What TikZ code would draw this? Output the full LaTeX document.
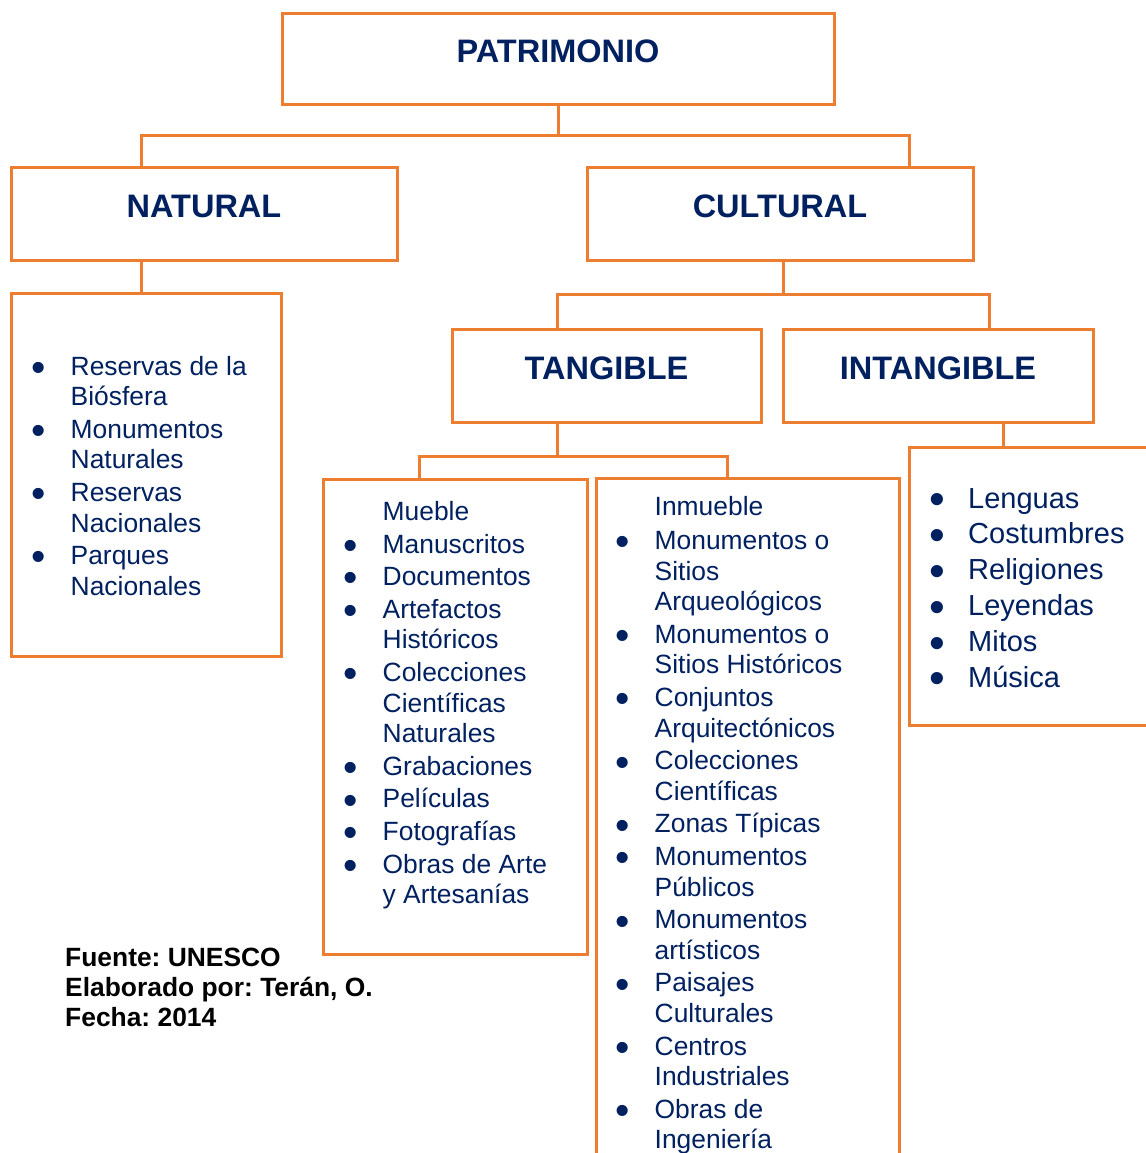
\documentclass[tikz,border=0pt]{standalone}
\usepackage{fontspec}
\usepackage{graphicx}
\setmainfont{Liberation Sans}
\frenchspacing
\definecolor{naranja}{HTML}{ED7D31}
\definecolor{azul}{HTML}{002060}
\newcommand{\vineta}[1][32.5pt]{\makebox[#1][l]{\makebox[0pt]{\raisebox{-0.24em}{\scalebox{1.55}{\textbullet}}}}}
\begin{document}
\begin{tikzpicture}[x = 1pt, y = -1pt,
    caja/.style = {draw = naranja, line width = 3pt, inner sep = 0pt},
    titulo/.style = {caja, text = azul, font = \bfseries\fontsize{32.5}{39}\selectfont, text height = 23pt, text depth = 16pt},
    lista/.style = {anchor = base west, inner sep = 0pt, text = azul, font = \fontsize{26.4}{30.6}\selectfont},
    enlace/.style = {draw = naranja, line width = 3pt}]
      \useasboundingbox (0,0) rectangle (1145,1153);
      % cajas
      \node [titulo, minimum width = 552pt, minimum height = 91pt] (patr) at (558,59.5) {PATRIMONIO};
      \node [titulo, minimum width = 386pt, minimum height = 93pt] (natural) at (204,213.5) {NATURAL};
      \node [titulo, minimum width = 386pt, minimum height = 93pt] (cultural) at (780,213.5) {CULTURAL};
      \node [caja, minimum width = 270pt, minimum height = 363pt] (natlist) at (146,474.5) {};
      \node [titulo, minimum width = 309pt, minimum height = 93pt] (tangible) at (606.5,375.5) {TANGIBLE};
      \node [titulo, minimum width = 310pt, minimum height = 93pt] (intangible) at (938,375.5) {INTANGIBLE};
      \node [caja, minimum width = 264pt, minimum height = 475pt] (mueble) at (455,716.5) {};
      \node [caja, minimum width = 303pt, minimum height = 697pt] (inmueble) at (747.5,826.5) {};
      \node [caja, minimum width = 256pt, minimum height = 278pt] (intlist) at (1037,586) {};
      % enlaces
      \draw [enlace] (patr.south) -- ++(0,29) -| ([xshift = -63pt]natural.north);
      \draw [enlace] (patr.south) -- ++(0,29) -| ([xshift = 129pt]cultural.north);
      \draw [enlace] ([xshift = -63pt]natural.south) -- ([xshift = -63pt]natural.south |- natlist.north);
      \draw [enlace] ([xshift = 3pt]cultural.south) -- ++(0,33) -| ([xshift = -49.5pt]tangible.north);
      \draw [enlace] ([xshift = 3pt]cultural.south) -- ++(0,33) -| ([xshift = 51pt]intangible.north);
      \draw [enlace] ([xshift = -49.5pt]tangible.south) -- ++(0,33) -| ([xshift = -36pt]mueble.north);
      \draw [enlace] ([xshift = -49.5pt]tangible.south) -- ++(0,33) -| ([xshift = -20.5pt]inmueble.north);
      \draw [enlace] ([xshift = 65pt]intangible.south) -- ([xshift = 65pt]intangible.south |- intlist.north);
      % listas
      \node [lista] (natitems) at (38,375) {\begin{tabular}[t]{@{}l@{}l@{}}
        \vineta & Reservas de la\\
        & Biósfera\\[2pt]
        \vineta & Monumentos\\
        & Naturales\\[2pt]
        \vineta & Reservas\\
        & Nacionales\\[2pt]
        \vineta & Parques\\
        & Nacionales
      \end{tabular}};
      \node [lista] (mueitems) at (350,520) {\begin{tabular}[t]{@{}l@{}l@{}}
        & Mueble\\[2.4pt]
        \vineta & Manuscritos\\[2pt]
        \vineta & Documentos\\[2pt]
        \vineta & Artefactos\\
        & Históricos\\[2pt]
        \vineta & Colecciones\\
        & Científicas\\
        & Naturales\\[2pt]
        \vineta & Grabaciones\\[2pt]
        \vineta & Películas\\[2pt]
        \vineta & Fotografías\\[2pt]
        \vineta & Obras de Arte\\
        & y Artesanías
      \end{tabular}};
      \node [lista] (inmitems) at (622,515) {\begin{tabular}[t]{@{}l@{}l@{}}
        & Inmueble\\[3.9pt]
        \vineta & Monumentos o\\
        & Sitios\\
        & Arqueológicos\\[2pt]
        \vineta & Monumentos o\\
        & Sitios Históricos\\[2pt]
        \vineta & Conjuntos\\
        & Arquitectónicos\\[2pt]
        \vineta & Colecciones\\
        & Científicas\\[2pt]
        \vineta & Zonas Típicas\\[2pt]
        \vineta & Monumentos\\
        & Públicos\\[2pt]
        \vineta & Monumentos\\
        & artísticos\\[2pt]
        \vineta & Paisajes\\
        & Culturales\\[2pt]
        \vineta & Centros\\
        & Industriales\\[2pt]
        \vineta & Obras de\\
        & Ingeniería
      \end{tabular}};
      \node [lista, font = \fontsize{29}{35.8}\selectfont] (intitems) at (937,508) {\begin{tabular}[t]{@{}l@{}l@{}}
        \vineta[31pt] & Lenguas\\
        \vineta[31pt] & Costumbres\\
        \vineta[31pt] & Religiones\\
        \vineta[31pt] & Leyendas\\
        \vineta[31pt] & Mitos\\
        \vineta[31pt] & Música
      \end{tabular}};
      % fuente
      \node [anchor = base west, inner sep = 0pt, font = \bfseries\fontsize{26.4}{30.4}\selectfont] (fuente) at (65,966) {\begin{tabular}[t]{@{}l@{}}
        Fuente: UNESCO\\
        Elaborado por: Terán, O.\\
        Fecha: 2014
      \end{tabular}};
\end{tikzpicture}
\end{document}
